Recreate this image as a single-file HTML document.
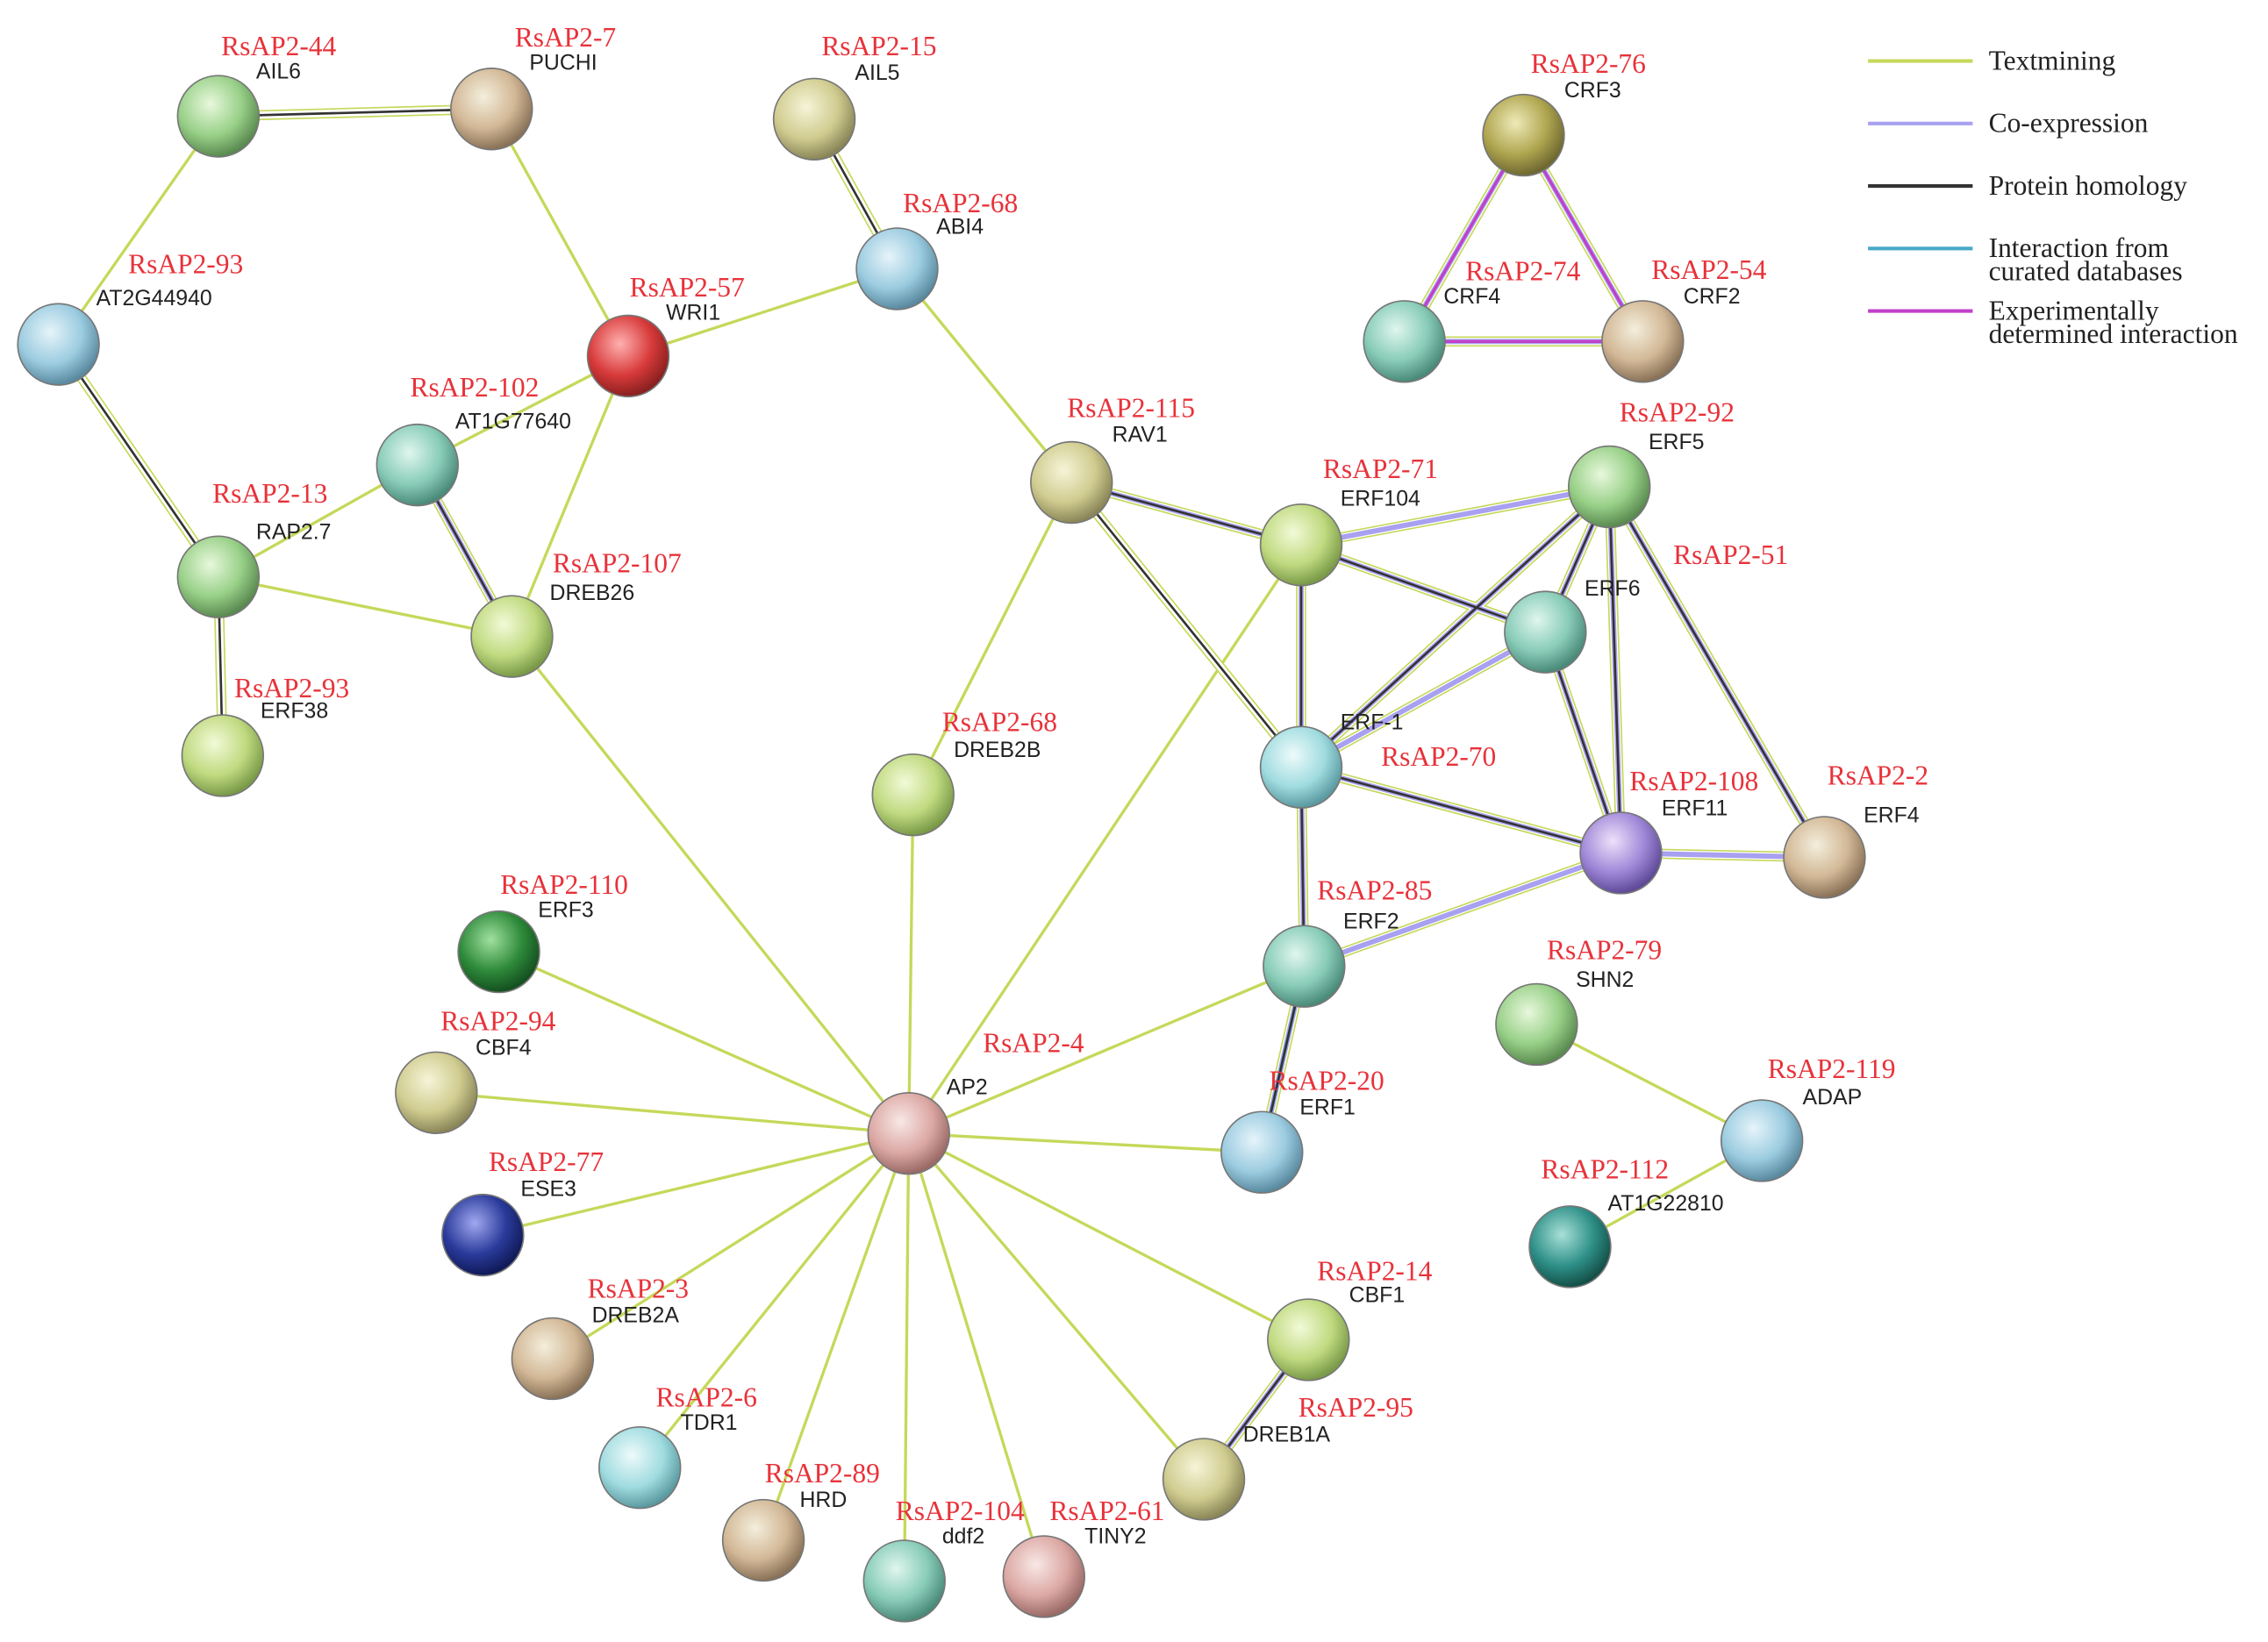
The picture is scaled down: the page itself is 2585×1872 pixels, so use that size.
<!DOCTYPE html>
<html><head><meta charset="utf-8"><style>
html,body{margin:0;padding:0;background:#fff;}
svg{display:block;}
.r{font-family:"Liberation Serif",serif;font-size:19px;fill:#e8323a;}
.b{font-family:"Liberation Sans",sans-serif;font-size:15px;fill:#222;}
.lg{font-family:"Liberation Serif",serif;font-size:19px;fill:#222;}
</style></head><body>
<svg width="2585" height="1872" viewBox="0 0 1560 1130" xmlns="http://www.w3.org/2000/svg">
<defs>
<radialGradient id="gG" cx="40%" cy="35%" r="65%"><stop offset="0" stop-color="#e8f8dc"/><stop offset=".6" stop-color="#98d088"/><stop offset="1" stop-color="#5a8a50"/></radialGradient>
<radialGradient id="gT" cx="40%" cy="35%" r="65%"><stop offset="0" stop-color="#f4eedc"/><stop offset=".6" stop-color="#d2b896"/><stop offset="1" stop-color="#8a7258"/></radialGradient>
<radialGradient id="gK" cx="40%" cy="35%" r="65%"><stop offset="0" stop-color="#f6f4d8"/><stop offset=".6" stop-color="#d0cc90"/><stop offset="1" stop-color="#8a8658"/></radialGradient>
<radialGradient id="gB" cx="40%" cy="35%" r="65%"><stop offset="0" stop-color="#e6f4fa"/><stop offset=".6" stop-color="#9ccce0"/><stop offset="1" stop-color="#5a8aa0"/></radialGradient>
<radialGradient id="gC" cx="40%" cy="35%" r="65%"><stop offset="0" stop-color="#e0f6ee"/><stop offset=".6" stop-color="#88ccb8"/><stop offset="1" stop-color="#4a8a78"/></radialGradient>
<radialGradient id="gR" cx="40%" cy="35%" r="65%"><stop offset="0" stop-color="#ffb0b0"/><stop offset=".6" stop-color="#d83a3a"/><stop offset="1" stop-color="#8a2020"/></radialGradient>
<radialGradient id="gP" cx="40%" cy="35%" r="65%"><stop offset="0" stop-color="#f8e8e6"/><stop offset=".6" stop-color="#dca8a4"/><stop offset="1" stop-color="#9a6a66"/></radialGradient>
<radialGradient id="gO" cx="40%" cy="35%" r="65%"><stop offset="0" stop-color="#eeeab8"/><stop offset=".6" stop-color="#b0a650"/><stop offset="1" stop-color="#6e6830"/></radialGradient>
<radialGradient id="gY" cx="40%" cy="35%" r="65%"><stop offset="0" stop-color="#f2fad8"/><stop offset=".6" stop-color="#c0da80"/><stop offset="1" stop-color="#7a9a48"/></radialGradient>
<radialGradient id="gV" cx="40%" cy="35%" r="65%"><stop offset="0" stop-color="#eee0fa"/><stop offset=".6" stop-color="#a088d8"/><stop offset="1" stop-color="#5e4a98"/></radialGradient>
<radialGradient id="gD" cx="40%" cy="35%" r="65%"><stop offset="0" stop-color="#a0e0a0"/><stop offset=".6" stop-color="#2e8a3a"/><stop offset="1" stop-color="#145020"/></radialGradient>
<radialGradient id="gN" cx="40%" cy="35%" r="65%"><stop offset="0" stop-color="#a0a8f0"/><stop offset=".6" stop-color="#2a3a9a"/><stop offset="1" stop-color="#101a58"/></radialGradient>
<radialGradient id="gE" cx="40%" cy="35%" r="65%"><stop offset="0" stop-color="#a8e0d8"/><stop offset=".6" stop-color="#2e9088"/><stop offset="1" stop-color="#145048"/></radialGradient>
<radialGradient id="gL" cx="40%" cy="35%" r="65%"><stop offset="0" stop-color="#eefafa"/><stop offset=".6" stop-color="#a0dce0"/><stop offset="1" stop-color="#5a9aa0"/></radialGradient>
</defs>
<g stroke-linecap="round" fill="none">
<!-- textmining only edges -->
<g stroke="#c6d85a" stroke-width="2">
<line x1="150" y1="80" x2="40" y2="237"/>
<line x1="338" y1="75" x2="432" y2="245"/>
<line x1="617" y1="185" x2="432" y2="245"/>
<line x1="617" y1="185" x2="737" y2="332"/>
<line x1="432" y1="245" x2="287" y2="320"/>
<line x1="432" y1="245" x2="352" y2="438"/>
<line x1="287" y1="320" x2="150" y2="397"/>
<line x1="150" y1="397" x2="352" y2="438"/>
<line x1="352" y1="438" x2="625" y2="780"/>
<line x1="737" y1="332" x2="628" y2="547"/>
<line x1="895" y1="375" x2="625" y2="780"/>
<line x1="897" y1="665" x2="625" y2="780"/>
<line x1="1057" y1="705" x2="1212" y2="785"/>
<line x1="1212" y1="785" x2="1080" y2="858"/>
<line x1="625" y1="780" x2="343" y2="655"/>
<line x1="625" y1="780" x2="300" y2="752"/>
<line x1="625" y1="780" x2="332" y2="850"/>
<line x1="625" y1="780" x2="380" y2="935"/>
<line x1="625" y1="780" x2="440" y2="1010"/>
<line x1="625" y1="780" x2="525" y2="1060"/>
<line x1="625" y1="780" x2="622" y2="1088"/>
<line x1="625" y1="780" x2="718" y2="1085"/>
<line x1="625" y1="780" x2="828" y2="1018"/>
<line x1="625" y1="780" x2="900" y2="922"/>
<line x1="625" y1="780" x2="868" y2="793"/>
<line x1="625" y1="780" x2="628" y2="547"/>
</g>
<!-- multi edges: layered -->
<g id="m1" stroke="#c6d85a" stroke-width="7">
<line x1="150" y1="80" x2="338" y2="75"/>
<line x1="560" y1="82" x2="617" y2="185"/>
<line x1="40" y1="237" x2="150" y2="397"/>
<line x1="150" y1="397" x2="153" y2="520"/>
<line x1="287" y1="320" x2="352" y2="438"/>
<line x1="1048" y1="93" x2="966" y2="235"/>
<line x1="1048" y1="93" x2="1130" y2="235"/>
<line x1="966" y1="235" x2="1130" y2="235"/>
<line x1="737" y1="332" x2="895" y2="375"/>
<line x1="737" y1="332" x2="895" y2="528"/>
<line x1="895" y1="375" x2="1107" y2="335"/>
<line x1="895" y1="375" x2="1063" y2="435"/>
<line x1="895" y1="375" x2="895" y2="528"/>
<line x1="1107" y1="335" x2="1063" y2="435"/>
<line x1="1107" y1="335" x2="895" y2="528"/>
<line x1="1107" y1="335" x2="1115" y2="587"/>
<line x1="1107" y1="335" x2="1255" y2="590"/>
<line x1="1063" y1="435" x2="895" y2="528"/>
<line x1="1063" y1="435" x2="1115" y2="587"/>
<line x1="895" y1="528" x2="1115" y2="587"/>
<line x1="895" y1="528" x2="897" y2="665"/>
<line x1="1115" y1="587" x2="1255" y2="590"/>
<line x1="1115" y1="587" x2="897" y2="665"/>
<line x1="897" y1="665" x2="868" y2="793"/>
<line x1="900" y1="922" x2="828" y2="1018"/>
</g>
<g stroke="#fff" stroke-width="5">
<line x1="150" y1="80" x2="338" y2="75"/>
<line x1="560" y1="82" x2="617" y2="185"/>
<line x1="40" y1="237" x2="150" y2="397"/>
<line x1="150" y1="397" x2="153" y2="520"/>
<line x1="287" y1="320" x2="352" y2="438"/>
<line x1="1048" y1="93" x2="966" y2="235"/>
<line x1="1048" y1="93" x2="1130" y2="235"/>
<line x1="966" y1="235" x2="1130" y2="235"/>
<line x1="737" y1="332" x2="895" y2="375"/>
<line x1="737" y1="332" x2="895" y2="528"/>
<line x1="895" y1="375" x2="1107" y2="335"/>
<line x1="895" y1="375" x2="1063" y2="435"/>
<line x1="895" y1="375" x2="895" y2="528"/>
<line x1="1107" y1="335" x2="1063" y2="435"/>
<line x1="1107" y1="335" x2="895" y2="528"/>
<line x1="1107" y1="335" x2="1115" y2="587"/>
<line x1="1107" y1="335" x2="1255" y2="590"/>
<line x1="1063" y1="435" x2="895" y2="528"/>
<line x1="1063" y1="435" x2="1115" y2="587"/>
<line x1="895" y1="528" x2="1115" y2="587"/>
<line x1="895" y1="528" x2="897" y2="665"/>
<line x1="1115" y1="587" x2="1255" y2="590"/>
<line x1="1115" y1="587" x2="897" y2="665"/>
<line x1="897" y1="665" x2="868" y2="793"/>
<line x1="900" y1="922" x2="828" y2="1018"/>
</g>
<!-- coexpression -->
<g stroke="#a8a0f0" stroke-width="3.5">
<line x1="287" y1="320" x2="352" y2="438"/>
<line x1="1048" y1="93" x2="966" y2="235"/>
<line x1="1048" y1="93" x2="1130" y2="235"/>
<line x1="966" y1="235" x2="1130" y2="235"/>
<line x1="737" y1="332" x2="895" y2="375"/>
<line x1="895" y1="375" x2="1107" y2="335"/>
<line x1="895" y1="375" x2="1063" y2="435"/>
<line x1="895" y1="375" x2="895" y2="528"/>
<line x1="1107" y1="335" x2="1063" y2="435"/>
<line x1="1107" y1="335" x2="895" y2="528"/>
<line x1="1107" y1="335" x2="1115" y2="587"/>
<line x1="1107" y1="335" x2="1255" y2="590"/>
<line x1="1063" y1="435" x2="895" y2="528"/>
<line x1="1063" y1="435" x2="1115" y2="587"/>
<line x1="895" y1="528" x2="1115" y2="587"/>
<line x1="895" y1="528" x2="897" y2="665"/>
<line x1="1115" y1="587" x2="1255" y2="590"/>
<line x1="1115" y1="587" x2="897" y2="665"/>
<line x1="897" y1="665" x2="868" y2="793"/>
<line x1="900" y1="922" x2="828" y2="1018"/>
</g>
<!-- experimental -->
<g stroke="#c040c8" stroke-width="2">
<line x1="1048" y1="93" x2="966" y2="235"/>
<line x1="1048" y1="93" x2="1130" y2="235"/>
<line x1="966" y1="235" x2="1130" y2="235"/>
</g>
<g stroke="#4aa8c8" stroke-width="2"><line x1="897" y1="665" x2="868" y2="793"/></g>
<!-- homology -->
<g stroke="#333" stroke-width="1.6">
<line x1="150" y1="80" x2="338" y2="75"/>
<line x1="560" y1="82" x2="617" y2="185"/>
<line x1="40" y1="237" x2="150" y2="397"/>
<line x1="150" y1="397" x2="153" y2="520"/>
<line x1="287" y1="320" x2="352" y2="438"/>
<line x1="737" y1="332" x2="895" y2="528"/>
<line x1="737" y1="332" x2="895" y2="375"/>
<line x1="895" y1="375" x2="1063" y2="435"/>
<line x1="895" y1="375" x2="895" y2="528"/>
<line x1="1107" y1="335" x2="1063" y2="435"/>
<line x1="1107" y1="335" x2="895" y2="528"/>
<line x1="1107" y1="335" x2="1115" y2="587"/>
<line x1="1107" y1="335" x2="1255" y2="590"/>
<line x1="1063" y1="435" x2="1115" y2="587"/>
<line x1="895" y1="528" x2="1115" y2="587"/>
<line x1="895" y1="528" x2="897" y2="665"/>
<line x1="897" y1="665" x2="868" y2="793"/>
<line x1="900" y1="922" x2="828" y2="1018"/>
</g>
</g>
<!-- nodes -->
<g stroke="#777" stroke-width="1">
<circle cx="150" cy="80" r="28" fill="url(#gG)"/>
<circle cx="338" cy="75" r="28" fill="url(#gT)"/>
<circle cx="560" cy="82" r="28" fill="url(#gK)"/>
<circle cx="617" cy="185" r="28" fill="url(#gB)"/>
<circle cx="432" cy="245" r="28" fill="url(#gR)"/>
<circle cx="40" cy="237" r="28" fill="url(#gB)"/>
<circle cx="287" cy="320" r="28" fill="url(#gC)"/>
<circle cx="150" cy="397" r="28" fill="url(#gG)"/>
<circle cx="352" cy="438" r="28" fill="url(#gY)"/>
<circle cx="153" cy="520" r="28" fill="url(#gY)"/>
<circle cx="1048" cy="93" r="28" fill="url(#gO)"/>
<circle cx="966" cy="235" r="28" fill="url(#gC)"/>
<circle cx="1130" cy="235" r="28" fill="url(#gT)"/>
<circle cx="737" cy="332" r="28" fill="url(#gK)"/>
<circle cx="895" cy="375" r="28" fill="url(#gY)"/>
<circle cx="1107" cy="335" r="28" fill="url(#gG)"/>
<circle cx="1063" cy="435" r="28" fill="url(#gC)"/>
<circle cx="895" cy="528" r="28" fill="url(#gL)"/>
<circle cx="1115" cy="587" r="28" fill="url(#gV)"/>
<circle cx="1255" cy="590" r="28" fill="url(#gT)"/>
<circle cx="628" cy="547" r="28" fill="url(#gY)"/>
<circle cx="897" cy="665" r="28" fill="url(#gC)"/>
<circle cx="1057" cy="705" r="28" fill="url(#gG)"/>
<circle cx="1212" cy="785" r="28" fill="url(#gB)"/>
<circle cx="1080" cy="858" r="28" fill="url(#gE)"/>
<circle cx="343" cy="655" r="28" fill="url(#gD)"/>
<circle cx="300" cy="752" r="28" fill="url(#gK)"/>
<circle cx="625" cy="780" r="28" fill="url(#gP)"/>
<circle cx="868" cy="793" r="28" fill="url(#gB)"/>
<circle cx="332" cy="850" r="28" fill="url(#gN)"/>
<circle cx="380" cy="935" r="28" fill="url(#gT)"/>
<circle cx="440" cy="1010" r="28" fill="url(#gL)"/>
<circle cx="525" cy="1060" r="28" fill="url(#gT)"/>
<circle cx="622" cy="1088" r="28" fill="url(#gC)"/>
<circle cx="718" cy="1085" r="28" fill="url(#gP)"/>
<circle cx="828" cy="1018" r="28" fill="url(#gK)"/>
<circle cx="900" cy="922" r="28" fill="url(#gY)"/>
</g>
<!-- labels -->
<g>
<text class="r" x="152" y="38">RsAP2-44</text><text class="b" x="176" y="54">AIL6</text>
<text class="r" x="354" y="32">RsAP2-7</text><text class="b" x="364" y="48">PUCHI</text>
<text class="r" x="565" y="38">RsAP2-15</text><text class="b" x="588" y="55">AIL5</text>
<text class="r" x="621" y="146">RsAP2-68</text><text class="b" x="644" y="161">ABI4</text>
<text class="r" x="433" y="204">RsAP2-57</text><text class="b" x="458" y="220">WRI1</text>
<text class="r" x="88" y="188">RsAP2-93</text><text class="b" x="66" y="210">AT2G44940</text>
<text class="r" x="282" y="273">RsAP2-102</text><text class="b" x="313" y="295">AT1G77640</text>
<text class="r" x="146" y="346">RsAP2-13</text><text class="b" x="176" y="371">RAP2.7</text>
<text class="r" x="380" y="394">RsAP2-107</text><text class="b" x="378" y="413">DREB26</text>
<text class="r" x="161" y="480">RsAP2-93</text><text class="b" x="179" y="494">ERF38</text>
<text class="r" x="1053" y="50">RsAP2-76</text><text class="b" x="1076" y="67">CRF3</text>
<text class="r" x="1008" y="193">RsAP2-74</text><text class="b" x="993" y="209">CRF4</text>
<text class="r" x="1136" y="192">RsAP2-54</text><text class="b" x="1158" y="209">CRF2</text>
<text class="r" x="734" y="287">RsAP2-115</text><text class="b" x="765" y="304">RAV1</text>
<text class="r" x="910" y="329">RsAP2-71</text><text class="b" x="922" y="348">ERF104</text>
<text class="r" x="1114" y="290">RsAP2-92</text><text class="b" x="1134" y="309">ERF5</text>
<text class="r" x="1151" y="388">RsAP2-51</text><text class="b" x="1090" y="410">ERF6</text>
<text class="b" x="922" y="502">ERF-1</text><text class="r" x="950" y="527">RsAP2-70</text>
<text class="r" x="1121" y="544">RsAP2-108</text><text class="b" x="1143" y="561">ERF11</text>
<text class="r" x="1257" y="540">RsAP2-2</text><text class="b" x="1282" y="566">ERF4</text>
<text class="r" x="648" y="503">RsAP2-68</text><text class="b" x="656" y="521">DREB2B</text>
<text class="r" x="906" y="619">RsAP2-85</text><text class="b" x="924" y="639">ERF2</text>
<text class="r" x="1064" y="660">RsAP2-79</text><text class="b" x="1084" y="679">SHN2</text>
<text class="r" x="1216" y="742">RsAP2-119</text><text class="b" x="1240" y="760">ADAP</text>
<text class="r" x="1060" y="811">RsAP2-112</text><text class="b" x="1106" y="833">AT1G22810</text>
<text class="r" x="344" y="615">RsAP2-110</text><text class="b" x="370" y="631">ERF3</text>
<text class="r" x="303" y="709">RsAP2-94</text><text class="b" x="327" y="726">CBF4</text>
<text class="r" x="676" y="724">RsAP2-4</text><text class="b" x="651" y="753">AP2</text>
<text class="r" x="873" y="750">RsAP2-20</text><text class="b" x="894" y="767">ERF1</text>
<text class="r" x="336" y="806">RsAP2-77</text><text class="b" x="358" y="823">ESE3</text>
<text class="r" x="404" y="893">RsAP2-3</text><text class="b" x="407" y="910">DREB2A</text>
<text class="r" x="451" y="968">RsAP2-6</text><text class="b" x="468" y="984">TDR1</text>
<text class="r" x="526" y="1020">RsAP2-89</text><text class="b" x="550" y="1037">HRD</text>
<text class="r" x="616" y="1046">RsAP2-104</text><text class="b" x="648" y="1062">ddf2</text>
<text class="r" x="722" y="1046">RsAP2-61</text><text class="b" x="746" y="1062">TINY2</text>
<text class="r" x="893" y="975">RsAP2-95</text><text class="b" x="855" y="992">DREB1A</text>
<text class="r" x="906" y="881">RsAP2-14</text><text class="b" x="928" y="896">CBF1</text>
</g>
<!-- legend -->
<g stroke-width="2.5">
<line x1="1285" y1="42" x2="1357" y2="42" stroke="#c6d85a"/>
<line x1="1285" y1="85" x2="1357" y2="85" stroke="#a8a0f0"/>
<line x1="1285" y1="128" x2="1357" y2="128" stroke="#333"/>
<line x1="1285" y1="171" x2="1357" y2="171" stroke="#4aa8c8"/>
<line x1="1285" y1="214" x2="1357" y2="214" stroke="#c040c8"/>
</g>
<text class="lg" x="1368" y="48">Textmining</text>
<text class="lg" x="1368" y="91">Co-expression</text>
<text class="lg" x="1368" y="134">Protein homology</text>
<text class="lg" x="1368" y="177">Interaction from</text>
<text class="lg" x="1368" y="193">curated databases</text>
<text class="lg" x="1368" y="220">Experimentally</text>
<text class="lg" x="1368" y="236">determined interaction</text>
</svg>
</body></html>
